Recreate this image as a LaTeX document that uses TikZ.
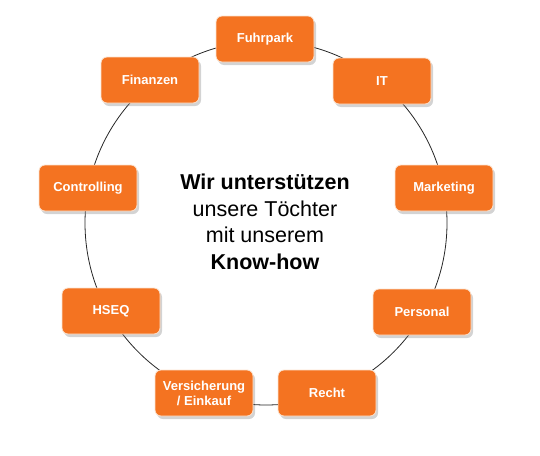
\documentclass[tikz,border=0pt]{standalone}
\usepackage{fontspec}
\setmainfont{Liberation Sans}
\usetikzlibrary{shadows}
\definecolor{orangebox}{HTML}{F47321}
\definecolor{orangeedge}{HTML}{FBE3D0}
\tikzset{
	unit/.style = {
		draw=orangeedge,
		fill=orangebox,
		rectangle,
		minimum width=98pt,
		minimum height=46pt,
		line width=0.8pt,
		align=center,
		rounded corners=6pt,
		text=white,
		font=\fontsize{13}{15}\selectfont\bfseries,
		drop shadow={opacity=0.35, shadow xshift=2pt, shadow yshift=-3pt}
	},
	ring/.style = {
		draw=black!85,
		line width=0.8pt
	},
	slogan/.style = {
		align=center,
		font=\fontsize{21.5}{26.5}\selectfont
	}
}
\begin{document}
\begin{tikzpicture}[x=1pt, y=-1pt]

	% --- Rahmen ---
	\useasboundingbox (0,0) rectangle (540,455);

	% --- Kreis ---
	\coordinate (hub) at (266,223);
	\draw [ring] (hub) ellipse [x radius=181, y radius=182];

	% --- Mitte ---
	\node [slogan] (claim) at (265,222) {\textbf{Wir unterstützen}\\unsere Töchter\\mit unserem\\\textbf{Know-how}};

	% --- Bereiche ---
	\node [unit] (fuhrpark) at (265,39) {Fuhrpark};
	\node [unit] (it) at (382,81) {IT};
	\node [unit] (marketing) at (444,188) {Marketing};
	\node [unit] (personal) at (422,312) {Personal};
	\node [unit] (recht) at (327,393) {Recht};
	\node [unit] (versicherung) at (204,393) {Versicherung\\/ Einkauf};
	\node [unit] (hseq) at (111,311) {HSEQ};
	\node [unit] (controlling) at (88,188) {Controlling};
	\node [unit] (finanzen) at (150,80) {Finanzen};

\end{tikzpicture}
\end{document}
